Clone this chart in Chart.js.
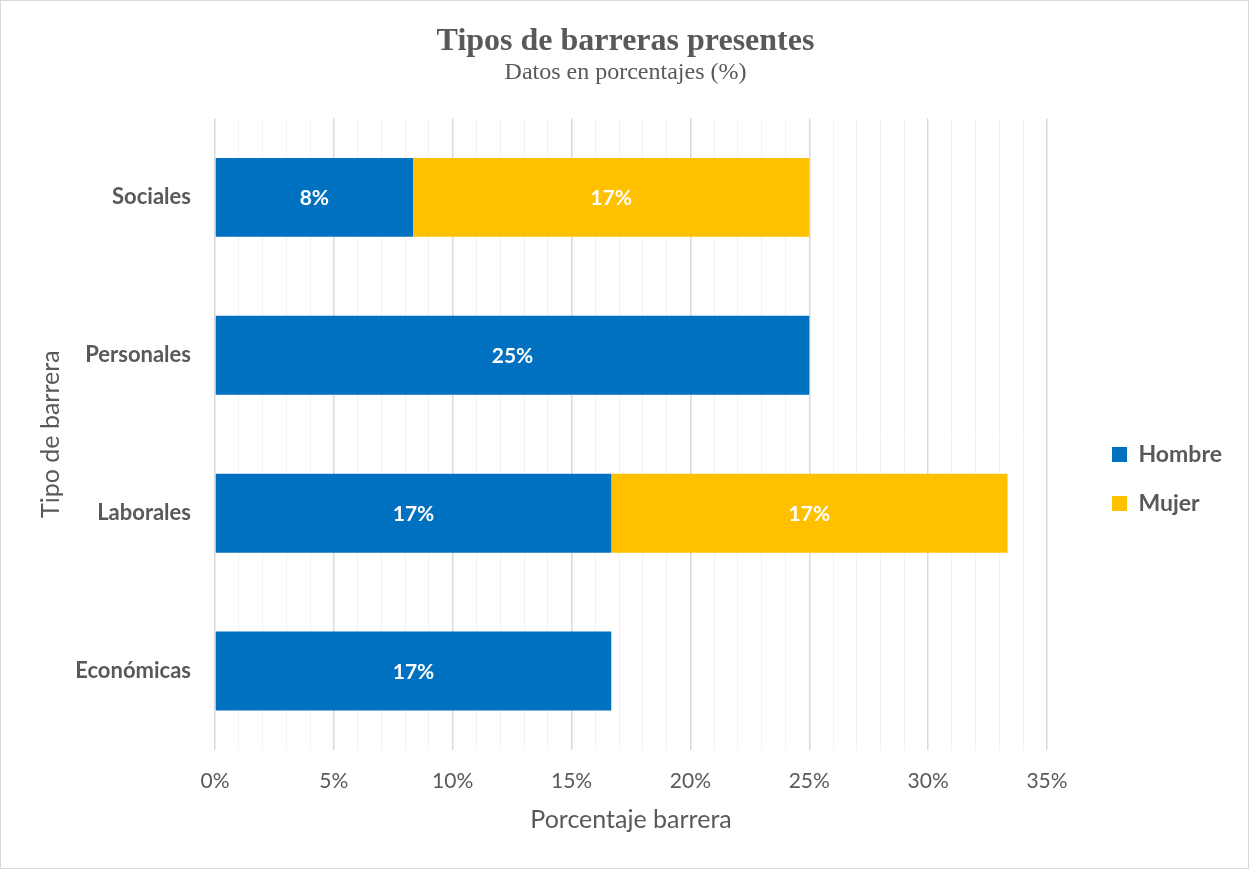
<!DOCTYPE html>
<html>
<head>
<meta charset="utf-8">
<script src="https://cdn.jsdelivr.net/npm/chart.js@4/dist/chart.umd.min.js"></script>
<style>
  html, body { margin: 0; padding: 0; background: #fff; }
  #wrap { width: 1249px; height: 869px; box-sizing: border-box; border: 1px solid #d9d9d9; position: relative; }
  canvas { display: block; }
</style>
</head>
<body>
<div id="wrap"><canvas id="c" width="1247" height="867"></canvas></div>
<script>
const categories = ['Sociales', 'Personales', 'Laborales', 'Económicas'];
const hombre = [8.33, 25, 16.67, 16.67];
const mujer = [16.67, 0, 16.67, 0];
const xTicks = [0, 5, 10, 15, 20, 25, 30, 35];

const grey = '#595959';

const labelPlugin = {
  id: 'barLabels',
  afterDatasetsDraw(chart) {
    const ctx = chart.ctx;
    ctx.save();
    ctx.fillStyle = '#ffffff';
    ctx.font = 'bold 21px Lato';
    ctx.textAlign = 'center';
    ctx.textBaseline = 'middle';
    chart.data.datasets.forEach((ds, i) => {
      const meta = chart.getDatasetMeta(i);
      meta.data.forEach((el, j) => {
        const v = ds.data[j];
        if (!v) return;
        ctx.fillText(Math.round(v) + '%', (el.x + el.base) / 2, el.y + 1);
      });
    });
    ctx.restore();
  }
};

// Legend placement: reserve space on the right, then place the legend block.
const LEGEND_SPACE = 201;
const LEGEND_LEFT = 1085;
const LEGEND_SHIFT = 56;
const legendPlace = {
  id: 'legendPlace',
  beforeLayout(chart) {
    const lg = chart.legend;
    if (lg && !lg.__patched) {
      const orig = lg.fit;
      lg.fit = function () { orig.call(this); this.width = LEGEND_SPACE; };
      lg.__patched = true;
    }
  },
  afterLayout(chart) {
    const lg = chart.legend;
    if (!lg) return;
    const w = lg.width;
    lg.left = LEGEND_LEFT;
    lg.right = LEGEND_LEFT + w;
    lg.top += LEGEND_SHIFT;
    lg.bottom += LEGEND_SHIFT;
  }
};

new Chart(document.getElementById('c'), {
  type: 'bar',
  data: {
    labels: categories,
    datasets: [
      { label: 'Hombre', data: hombre, backgroundColor: '#0070C0', categoryPercentage: 0.5, barPercentage: 1 },
      { label: 'Mujer', data: mujer, backgroundColor: '#FFC000', categoryPercentage: 0.5, barPercentage: 1 }
    ]
  },
  options: {
    indexAxis: 'y',
    responsive: false,
    animation: false,
    layout: { padding: { left: 2, right: 0, top: 10, bottom: 33 } },
    plugins: {
      title: {
        display: true,
        text: 'Tipos de barreras presentes',
        color: grey,
        font: { family: 'Liberation Serif', size: 32, weight: 'bold', lineHeight: 1.2 },
        padding: { top: 12, bottom: 0 }
      },
      subtitle: {
        display: true,
        text: 'Datos en porcentajes (%)',
        color: grey,
        font: { family: 'Liberation Serif', size: 24, lineHeight: 1.0 },
        padding: { top: -1, bottom: 34 }
      },
      legend: {
        position: 'right',
        labels: {
          color: grey,
          font: { family: 'Lato', size: 23, weight: 'bold' },
          boxWidth: 15,
          boxHeight: 15,
          padding: 26
        }
      },
      tooltip: { enabled: false }
    },
    scales: {
      x: {
        stacked: true,
        min: 0,
        max: 35,
        afterFit(scale) { scale.height = 85; },
        grid: {
          drawTicks: false,
          color: c => (c.tick && c.tick.value % 5 === 0) ? '#d9d9d9' : '#f2f2f2',
          lineWidth: c => (c.tick && c.tick.value % 5 === 0) ? 1.5 : 1
        },
        border: { display: false },
        ticks: {
          stepSize: 1,
          autoSkip: false,
          maxRotation: 0,
          color: grey,
          padding: 19,
          font: { family: 'Lato', size: 21 },
          callback: v => (xTicks.includes(v) ? v + '%' : '')
        },
        title: {
          display: true,
          text: 'Porcentaje barrera',
          color: grey,
          font: { family: 'Lato', size: 25 },
          padding: { top: 0, bottom: 0 }
        }
      },
      y: {
        stacked: true,
        afterFit(scale) { scale.width = 212; },
        grid: { display: false, drawTicks: false },
        border: { display: false },
        ticks: {
          color: grey,
          padding: 24,
          font: { family: 'Lato', size: 22, weight: 'bold' }
        },
        title: {
          display: true,
          text: 'Tipo de barrera',
          color: grey,
          font: { family: 'Lato', size: 25 },
          padding: { top: 33, bottom: 0 }
        }
      }
    }
  },
  plugins: [labelPlugin, legendPlace]
});
</script>
</body>
</html>
